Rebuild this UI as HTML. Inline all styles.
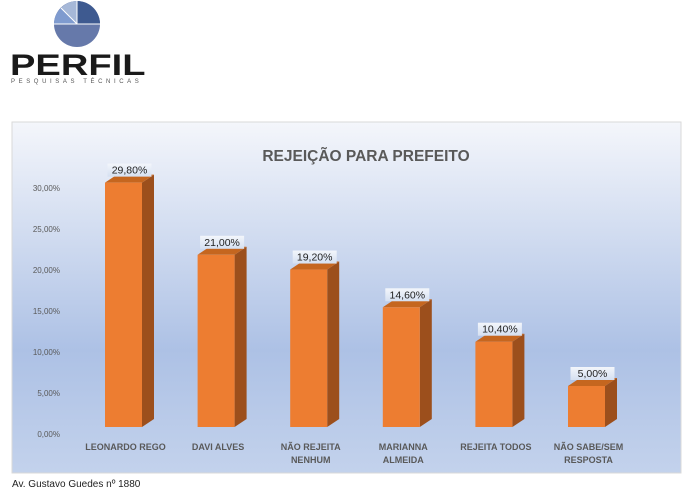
<!DOCTYPE html>
<html><head><meta charset="utf-8"><style>
body{margin:0;width:696px;height:489px;background:#fff;overflow:hidden;font-family:"Liberation Sans",sans-serif;position:relative}
</style></head><body>
<div style="position:absolute;left:0;top:0;width:160px;height:90px">
<svg width="160" height="90">
<circle cx="77" cy="24" r="23" fill="#6679aa"/>
<path d="M77 24 L77 1 A23 23 0 0 1 100 24 Z" fill="#3e5a90"/>
<path d="M77 24 L54 24 A23 23 0 0 1 61 8 Z" fill="#7f9bcf"/>
<path d="M77 24 L61 8 A23 23 0 0 1 77 1 Z" fill="#a6b8d8"/>
<path d="M54 24 H100 M77 24 V1 M77 24 L61 8" stroke="#fff" stroke-width="1"/>
</svg>
<div style="position:absolute;left:10px;top:51px;font:900 30px/30px 'Liberation Sans',sans-serif;color:#1a1a1a;transform:scaleX(1.27);transform-origin:left">PERFIL</div>
<div style="position:absolute;left:11px;top:79px;font:6px/7px 'Liberation Sans',sans-serif;letter-spacing:3.6px;color:#555;white-space:nowrap">PESQUISAS TÉCNICAS</div>
</div>
<svg id="chart" width="696" height="489" style="position:absolute;left:0;top:0">
<defs><linearGradient id="bg" x1="0" y1="0" x2="0" y2="1">
<stop offset="0" stop-color="#f4f6fb"/><stop offset="0.65" stop-color="#adc1e5"/><stop offset="1" stop-color="#c3d2ec"/></linearGradient>
<linearGradient id="lb" x1="0" y1="0" x2="0" y2="1"><stop offset="0" stop-color="#f3f6fb"/><stop offset="1" stop-color="#d5e0f1"/></linearGradient></defs>
<rect x="12" y="122" width="669" height="351" fill="url(#bg)" stroke="#d9d9d9"/>
<text x="366" y="161" text-anchor="middle" font-size="15.5" font-weight="bold" fill="#595959">REJEIÇÃO PARA PREFEITO</text>
<g id="g"></g>
</svg>
<div style="position:absolute;left:12px;top:479px;font-size:10px;line-height:12px;color:#222">Av. Gustavo Guedes nº 1880</div>
<script>
const categories=[["LEONARDO REGO"],["DAVI ALVES"],["NÃO REJEITA","NENHUM"],["MARIANNA","ALMEIDA"],["REJEITA TODOS"],["NÃO SABE/SEM","RESPOSTA"]];
const values=[29.8,21.0,19.2,14.6,10.4,5.0];
const valueLabels=["29,80%","21,00%","19,20%","14,60%","10,40%","5,00%"];
const ticks=[0,5,10,15,20,25,30];
const tickLabels=["0,00%","5,00%","10,00%","15,00%","20,00%","25,00%","30,00%"];
const NS="http://www.w3.org/2000/svg",g=document.getElementById('g');
const yAxis=v=>434-v*8.2;
const barY=v=>427-v*8.2;
const xPos=i=>105+i*92.6;
function mk(t,a,txt){const e=document.createElementNS(NS,t);for(const k in a)e.setAttribute(k,a[k]);if(txt!=null)e.textContent=txt;g.appendChild(e);return e;}
ticks.forEach((t,i)=>{
const e=mk('text',{x:60,y:yAxis(t)+3,'text-anchor':'end','font-size':8,fill:'#595959'},tickLabels[i]);


});
const W=37,D=12,H=8;
values.forEach((v,i)=>{
const x=xPos(i),top=barY(v),b=427;
const s=mk('polygon',{points:`${x+W},${top} ${x+W+D},${top-H} ${x+W+D},${b-H} ${x+W},${b}`,fill:'#9c4f1c'});


const tp=mk('polygon',{points:`${x},${top} ${x+D},${top-H} ${x+W+D},${top-H} ${x+W},${top}`,fill:'#c5661f'});


const r=mk('rect',{x:x,y:top,width:W,height:b-top,fill:'#ed7d31'});


const cx=x+(W+D)/2;
const lb=mk('rect',{x:cx-22,y:top-19,width:44,height:13,fill:'url(#lb)'});


const lt=mk('text',{x:cx,y:top-9,'text-anchor':'middle','font-size':10.5,fill:'#222'},valueLabels[i]);


categories[i].forEach((ln,j)=>{
const c=mk('text',{x:x+W/2+2,y:450+j*13,'text-anchor':'middle','font-size':9,'font-weight':'bold',fill:'#595959'},ln);


});
});
</script>
</body></html>
